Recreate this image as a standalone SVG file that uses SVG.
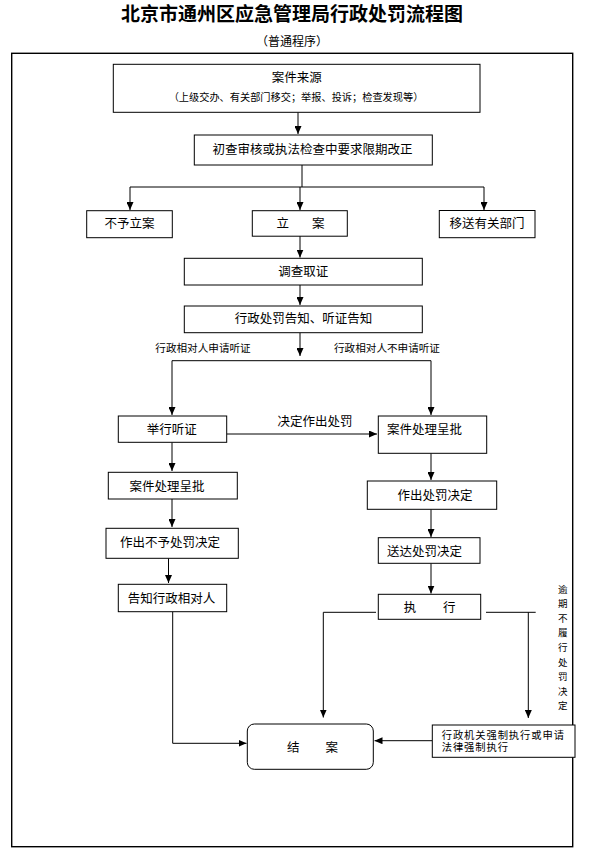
<svg xmlns="http://www.w3.org/2000/svg" width="597" height="848" viewBox="0 0 597 848">
<style>
text{font-family:"Liberation Sans","Noto Sans CJK SC",sans-serif;fill:#000;dominant-baseline:central}
.t{font-size:12.5px}
.s{font-size:10.6px}
.c{text-anchor:middle}
.b{fill:#fff;stroke:#000;stroke-width:1}
.l{fill:none;stroke:#000;stroke-width:1}
</style>
<defs>
<marker id="ah" markerUnits="userSpaceOnUse" markerWidth="8" markerHeight="7" refX="8" refY="3.5" orient="auto">
<path d="M0,0 L8,3.5 L0,7 z" fill="#000"/>
</marker>
</defs>
<rect width="597" height="848" fill="#fff"/>
<text x="292" y="14" class="c" style="font-size:19px;font-weight:bold">北京市通州区应急管理局行政处罚流程图</text>
<text x="292" y="42" class="c" style="font-size:12px">（普通程序）</text>
<rect x="11.7" y="53.3" width="561" height="793.4" fill="none" stroke="#000" stroke-width="1.4"/>

<g id="connectors">
<path class="l" d="M298,112.3 V134" marker-end="url(#ah)"/>
<path class="l" d="M302,165 V187 M130,187 H484"/>
<path class="l" d="M130,187 V210" marker-end="url(#ah)"/>
<path class="l" d="M300,187 V210" marker-end="url(#ah)"/>
<path class="l" d="M484,187 V210" marker-end="url(#ah)"/>
<path class="l" d="M300,236 V257.5" marker-end="url(#ah)"/>
<path class="l" d="M300,285 V305" marker-end="url(#ah)"/>
<path class="l" d="M300,332.7 V356" marker-end="url(#ah)"/>
<path class="l" d="M172,360.7 H431"/>
<path class="l" d="M172,360.7 V415" marker-end="url(#ah)"/>
<path class="l" d="M431,360.7 V415" marker-end="url(#ah)"/>
<path class="l" d="M226.7,434 H377" marker-end="url(#ah)"/>
<path class="l" d="M431,453.3 V480" marker-end="url(#ah)"/>
<path class="l" d="M172,442.3 V471" marker-end="url(#ah)"/>
<path class="l" d="M172,499 V527" marker-end="url(#ah)"/>
<path class="l" d="M168.5,558.3 V583" marker-end="url(#ah)"/>
<path class="l" d="M431,509.3 V537" marker-end="url(#ah)"/>
<path class="l" d="M431,563.3 V593.5" marker-end="url(#ah)"/>
<path class="l" d="M172.7,611.7 V743.3 H246.5" marker-end="url(#ah)"/>
<path class="l" d="M376,612.3 H323.3 V717.5" marker-end="url(#ah)"/>
<path class="l" d="M486,612.3 H535.7 M528.3,612.3 V718" marker-end="url(#ah)"/>
<path class="l" d="M432.3,740.7 H374.5" marker-end="url(#ah)"/>
</g>

<text x="203" y="347.7" class="s c">行政相对人申请听证</text>
<text x="387" y="347.7" class="s c">行政相对人不申请听证</text>
<text x="315" y="421.7" class="t c">决定作出处罚</text>
<text class="c" style="font-size:9.5px"><tspan x="562.7" y="588.5">逾</tspan><tspan x="562.7" y="603.1">期</tspan><tspan x="562.7" y="617.7">不</tspan><tspan x="562.7" y="632.3">履</tspan><tspan x="562.7" y="646.9">行</tspan><tspan x="562.7" y="661.5">处</tspan><tspan x="562.7" y="676.1">罚</tspan><tspan x="562.7" y="690.7">决</tspan><tspan x="562.7" y="705.3">定</tspan></text>

<g id="n1"><rect class="b" x="113.3" y="64.3" width="366.7" height="48"/><text x="296.7" y="78" class="t c">案件来源</text><text x="296" y="97.7" class="c" style="font-size:10.2px">（上级交办、有关部门移交；举报、投诉；检查发现等）</text></g>
<g id="n2"><rect class="b" x="194.3" y="135" width="238" height="30"/><text x="312.5" y="150" class="t c">初查审核或执法检查中要求限期改正</text></g>
<g id="n3"><rect class="b" x="86.7" y="210.7" width="85.6" height="27"/><text x="129.5" y="224.3" class="t c">不予立案</text></g>
<g id="n4"><rect class="b" x="252.3" y="210.7" width="95" height="25.5"/><text y="224" class="t c"><tspan x="282.7">立</tspan><tspan x="318.3">案</tspan></text></g>
<g id="n5"><rect class="b" x="439.3" y="210.5" width="95.7" height="27.2"/><text x="487" y="224" class="t c">移送有关部门</text></g>
<g id="n6"><rect class="b" x="184.3" y="258.3" width="238" height="26.7"/><text x="303.3" y="272.2" class="t c">调查取证</text></g>
<g id="n7"><rect class="b" x="184.3" y="306" width="238" height="26.7"/><text x="303.5" y="319.3" class="t c">行政处罚告知、听证告知</text></g>
<g id="n8"><rect class="b" x="118.3" y="416" width="108.4" height="26.3"/><text x="171.7" y="430" class="t c">举行听证</text></g>
<g id="n9"><rect class="b" x="378.3" y="416" width="108.4" height="37.3"/><text x="424.5" y="430" class="t c">案件处理呈批</text></g>
<g id="n10"><rect class="b" x="108.3" y="472.3" width="129" height="26.7"/><text x="167" y="486.5" class="t c">案件处理呈批</text></g>
<g id="n11"><rect class="b" x="367.3" y="481" width="129.4" height="28.3"/><text x="435" y="496" class="t c">作出处罚决定</text></g>
<g id="n12"><rect class="b" x="106" y="528.3" width="132.3" height="30"/><text x="170" y="543" class="t c">作出不予处罚决定</text></g>
<g id="n13"><rect class="b" x="378.3" y="537.7" width="101.7" height="25.6"/><text x="424.5" y="551.7" class="t c">送达处罚决定</text></g>
<g id="n14"><rect class="b" x="118.3" y="584.3" width="108.4" height="27.4"/><text x="171.4" y="599" class="t c">告知行政相对人</text></g>
<g id="n15"><rect class="b" x="378.3" y="594.3" width="102.4" height="25"/><text y="608" class="t c"><tspan x="410">执</tspan><tspan x="449.3">行</tspan></text></g>
<g id="n16"><rect class="b" x="247.3" y="724" width="126" height="45.3" rx="7"/><text y="748" class="t c"><tspan x="293.3">结</tspan><tspan x="331.7">案</tspan></text></g>
<g id="n17"><rect class="b" x="432.3" y="725" width="142.7" height="32.3"/><text x="441.7" y="735.7" style="font-size:10.3px;letter-spacing:0.9px">行政机关强制执行或申请</text><text x="441.7" y="747.7" style="font-size:10.3px;letter-spacing:0.9px">法律强制执行</text></g>
</svg>
